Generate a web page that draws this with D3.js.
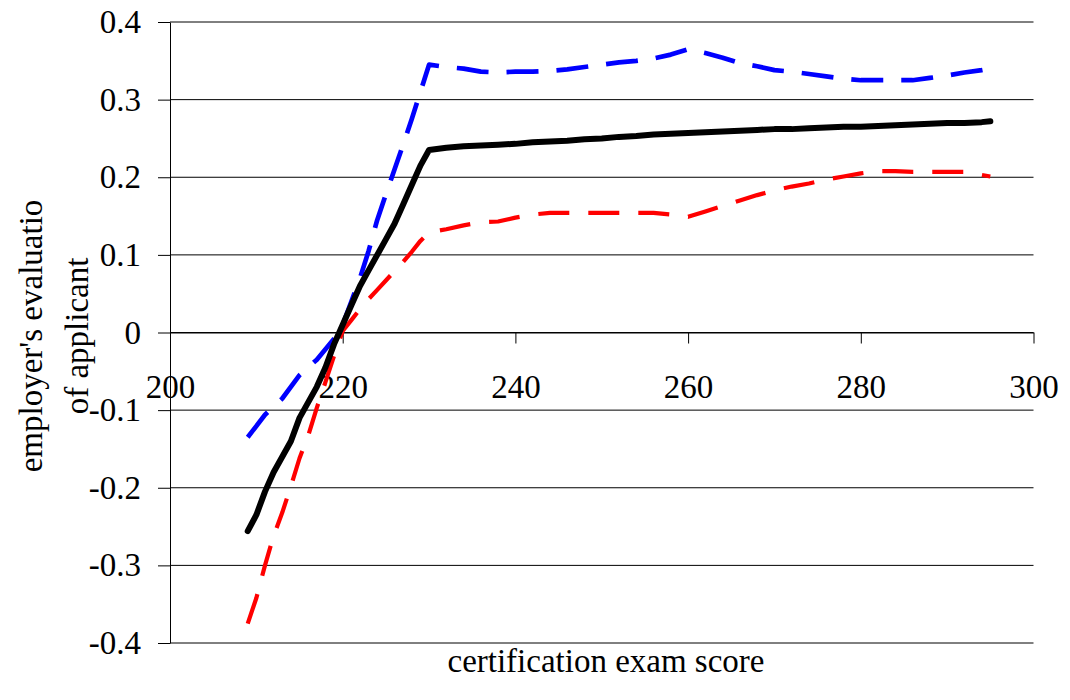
<!DOCTYPE html>
<html>
<head>
<meta charset="utf-8">
<script src="https://cdn.jsdelivr.net/npm/d3@7"></script>
<style>
  body { margin: 0; background: #fff; }
</style>
</head>
<body>
<div id="chart"></div>
<script>
const blackX = [209, 210, 211, 212, 213, 214, 215, 216, 217, 218, 219, 220, 221, 222, 223, 224, 225, 226, 227, 228, 229, 230,
  232, 234, 236, 238, 240, 242, 244, 246, 248, 250, 252, 254, 256, 258, 260, 262, 264, 266, 268, 270, 272, 274, 276, 278,
  280, 282, 284, 286, 288, 290, 292, 294, 295];
const blackY = [-0.256, -0.235, -0.205, -0.18, -0.16, -0.14, -0.11, -0.09, -0.07, -0.045, -0.015, 0.01, 0.035, 0.06, 0.08, 0.10,
  0.12, 0.14, 0.165, 0.19, 0.215, 0.235,
  0.238, 0.240, 0.241, 0.242, 0.243, 0.245, 0.246, 0.247, 0.249, 0.250, 0.252, 0.253, 0.255, 0.256, 0.257, 0.258, 0.259,
  0.260, 0.261, 0.262, 0.262, 0.263, 0.264, 0.265, 0.265, 0.266, 0.267, 0.268, 0.269, 0.270, 0.270, 0.271, 0.272];

const blueX = [209, 211, 213, 215, 217, 219, 220, 221, 222, 223, 224, 225, 226, 227, 228, 229, 230,
  232, 234, 236, 238, 240, 242, 244, 246, 248, 250, 252, 254, 256, 258, 260, 262, 264, 266, 268, 270, 272, 274, 276,
  278, 280, 282, 284, 286, 288, 290, 292, 294, 295];
const blueY = [-0.135, -0.106, -0.085, -0.055, -0.035, -0.008, 0.010, 0.040, 0.070, 0.105, 0.145, 0.178, 0.210, 0.242, 0.275,
  0.31, 0.345,
  0.342, 0.340, 0.336, 0.335, 0.336, 0.336, 0.337, 0.339, 0.342, 0.345, 0.348, 0.350, 0.353, 0.358, 0.365, 0.360, 0.354,
  0.347, 0.343, 0.338, 0.336, 0.333, 0.330, 0.327, 0.325, 0.325, 0.325, 0.325, 0.328, 0.331, 0.335, 0.338, 0.340];

const redX = [209, 210, 211, 212, 213, 214, 215, 216, 217, 218, 219, 220, 221, 222, 223, 224, 225, 226, 227, 228, 229, 230,
  232, 234, 236, 238, 240, 242, 244, 246, 248, 250, 252, 254, 256, 258, 260, 262, 264, 266, 268, 270, 272, 274, 276, 278,
  280, 282, 284, 286, 288, 290, 292, 294, 295];
const redY = [-0.375, -0.342, -0.300, -0.262, -0.232, -0.198, -0.162, -0.133, -0.097, -0.064, -0.030, 0.002, 0.016, 0.030,
  0.043, 0.055, 0.067, 0.079, 0.091, 0.104, 0.118, 0.129,
  0.133, 0.138, 0.142, 0.143, 0.148, 0.152, 0.154, 0.154, 0.154, 0.154, 0.154, 0.154, 0.154, 0.152, 0.149, 0.156, 0.163,
  0.170, 0.177, 0.183, 0.188, 0.192, 0.197, 0.201, 0.205, 0.208, 0.208, 0.207, 0.207, 0.207, 0.207, 0.203, 0.201];

const xTicks = [200, 220, 240, 260, 280, 300];
const yTicks = [-0.4, -0.3, -0.2, -0.1, 0, 0.1, 0.2, 0.3, 0.4];
const yTickLabels = ["-0.4", "-0.3", "-0.2", "-0.1", "0", "0.1", "0.2", "0.3", "0.4"];

const width = 1070, height = 700;
const font = "'Liberation Serif', 'Times New Roman', 'DejaVu Serif', serif";

const svg = d3.select("#chart")
  .append("svg")
  .attr("width", width)
  .attr("height", height);

const x = d3.scaleLinear().domain([200, 300]).range([170, 1033.5]);
const y = d3.scaleLinear().domain([-0.4, 0.4]).range([643, 22]);

// horizontal gridlines
svg.append("g")
  .selectAll("line")
  .data(yTicks)
  .join("line")
  .attr("x1", x(200))
  .attr("x2", x(300))
  .attr("y1", d => y(d))
  .attr("y2", d => y(d))
  .attr("stroke", "#000")
  .attr("stroke-width", 1);

// y axis on the left
const yAxis = svg.append("g")
  .attr("transform", "translate(" + x(200) + ",0)")
  .call(d3.axisLeft(y)
    .tickValues(yTicks)
    .tickSize(12)
    .tickSizeOuter(0)
    .tickPadding(17)
    .tickFormat((d, i) => yTickLabels[i]));

// x axis sits on y = 0
const xAxis = svg.append("g")
  .attr("transform", "translate(0," + y(0) + ")")
  .call(d3.axisBottom(x)
    .tickValues(xTicks)
    .tickSize(11)
    .tickSizeOuter(0)
    .tickPadding(31)
    .tickFormat(d3.format("d")));

svg.selectAll(".domain, .tick line").attr("stroke", "#000").attr("stroke-width", 1);
svg.selectAll(".tick text")
  .style("font-family", font)
  .style("font-size", "33px")
  .attr("fill", "#000");

const line = d3.line()
  .x(d => x(d[0]))
  .y(d => y(d[1]));

function drawSeries(xs, ys, color, w, dash, cap) {
  svg.append("path")
    .datum(xs.map((v, i) => [v, ys[i]]))
    .attr("fill", "none")
    .attr("stroke", color)
    .attr("stroke-width", w)
    .attr("stroke-dasharray", dash)
    .attr("stroke-linecap", cap)
    .attr("stroke-linejoin", "round")
    .attr("d", line);
}

drawSeries(redX, redY, "#ff0000", 4.2, "31,19", "butt");
drawSeries(blueX, blueY, "#0000ff", 4.7, "32,18", "butt");
drawSeries(blackX, blackY, "#000000", 6, null, "round");

// axis titles
svg.append("text")
  .attr("x", 606)
  .attr("y", 672)
  .attr("text-anchor", "middle")
  .style("font-family", font)
  .style("font-size", "33px")
  .text("certification exam score");

const yTitle = svg.append("text")
  .attr("transform", "translate(0,336) rotate(-90)")
  .attr("text-anchor", "middle")
  .style("font-family", font)
  .style("font-size", "33px");
yTitle.append("tspan").attr("x", 0).attr("y", 42).text("employer's evaluatio");
yTitle.append("tspan").attr("x", 0).attr("y", 88).text("of applicant");
</script>
</body>
</html>
